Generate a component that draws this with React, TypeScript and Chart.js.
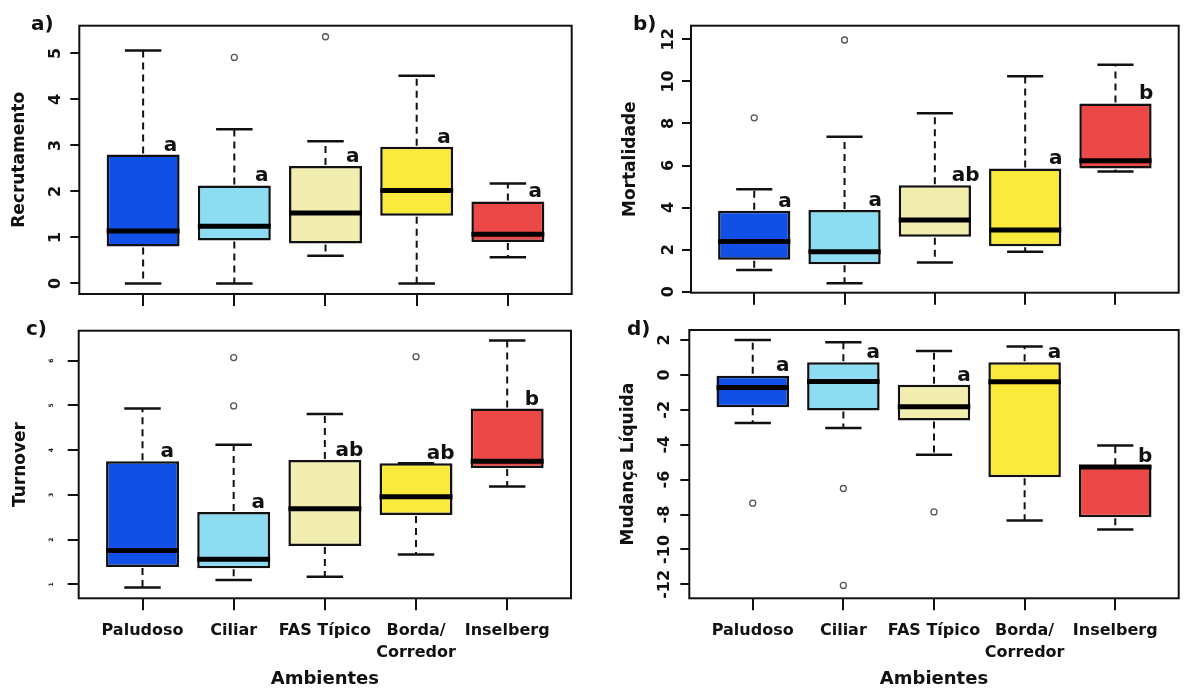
import React, { useEffect, useRef } from 'react';
import { Chart, registerables } from 'chart.js';

Chart.register(...registerables);

// ---------- data ----------
const categories = ['Paludoso', 'Ciliar', 'FAS Típico', 'Borda/\nCorredor', 'Inselberg'];
const boxColors = ['#1150e6', '#8cdcf2', '#f2eeb0', '#faea3c', '#ec4848'];

// a) Recrutamento
const recLow = [0, 0, 0.6, 0, 0.57];
const recQ1 = [0.8, 0.93, 0.87, 1.47, 0.9];
const recMed = [1.14, 1.24, 1.53, 2.02, 1.07];
const recQ3 = [2.8, 2.13, 2.55, 2.97, 1.78];
const recHigh = [5.06, 3.35, 3.09, 4.51, 2.17];
const recOutX = [2, 3];
const recOutY = [4.91, 5.36];
const recLetters = ['a', 'a', 'a', 'a', 'a'];
const recTicks = [0, 1, 2, 3, 4, 5];

// b) Mortalidade
const morLow = [1.03, 0.4, 1.39, 1.9, 5.72];
const morQ1 = [1.52, 1.3, 2.61, 2.16, 5.86];
const morMed = [2.38, 1.9, 3.41, 2.93, 6.23];
const morQ3 = [3.85, 3.88, 5.06, 5.86, 8.95];
const morHigh = [4.87, 7.37, 8.48, 10.24, 10.79];
const morOutX = [1, 2];
const morOutY = [8.27, 11.97];
const morLetters = ['a', 'a', 'ab', 'a', 'b'];
const morTicks = [0, 2, 4, 6, 8, 10, 12];

// c) Turnover
const turLow = [0.93, 1.1, 1.17, 1.67, 3.19];
const turQ1 = [1.39, 1.36, 1.86, 2.55, 3.6];
const turMed = [1.76, 1.56, 2.69, 2.96, 3.75];
const turQ3 = [3.75, 2.62, 3.78, 3.71, 4.93];
const turHigh = [4.93, 4.12, 4.81, 3.71, 6.45];
const turOutX = [2, 2, 4];
const turOutY = [6.07, 4.99, 6.09];
const turLetters = ['a', 'a', 'ab', 'ab', 'b'];
const turTicks = [1, 2, 3, 4, 5, 6];

// d) Mudança Líquida
const mudLow = [-2.76, -3.05, -4.57, -8.34, -8.86];
const mudQ1 = [-1.85, -2.04, -2.61, -5.87, -8.15];
const mudMed = [-0.72, -0.38, -1.83, -0.4, -5.28];
const mudQ3 = [0.0, 0.72, -0.57, 0.72, -5.24];
const mudHigh = [2.0, 1.87, 1.37, 1.62, -4.04];
const mudOutX = [1, 2, 2, 3];
const mudOutY = [-7.35, -6.51, -12.06, -7.85];
const mudLetters = ['a', 'a', 'a', 'a', 'b'];
const mudTicks = [-12, -10, -8, -6, -4, -2, 0, 2];

const FONT = "'DejaVu Sans', sans-serif";
const INK = '#111';

const panels = [
  {
    label: 'a)', title: 'Recrutamento',
    low: recLow, q1: recQ1, med: recMed, q3: recQ3, high: recHigh,
    outX: recOutX, outY: recOutY, letters: recLetters, ticks: recTicks,
    yMin: -0.23, yMax: 5.6,
    left: 0, top: 0, w: 592, h: 310,
    areaLeft: 79.3, padRight: 20.3, padTop: 25.7, xHeight: 16, showX: false,
    tickPad: 9, tickFont: 16, tickLen: 9, titlePad: 9.3, letterDx: 0.3,
    labelX: 31, labelY: 30,
  },
  {
    label: 'b)', title: 'Mortalidade',
    low: morLow, q1: morQ1, med: morMed, q3: morQ3, high: morHigh,
    outX: morOutX, outY: morOutY, letters: morLetters, ticks: morTicks,
    yMin: -0.05, yMax: 12.65,
    left: 592, top: 0, w: 592, h: 310,
    areaLeft: 99, padRight: 4, padTop: 25.7, xHeight: 17.3, showX: false,
    tickPad: 2.5, tickFont: 16, tickLen: 9, titlePad: 28.8, letterDx: 0.34,
    labelX: 41, labelY: 30,
  },
  {
    label: 'c)', title: 'Turnover',
    low: turLow, q1: turQ1, med: turMed, q3: turQ3, high: turHigh,
    outX: turOutX, outY: turOutY, letters: turLetters, ticks: turTicks,
    yMin: 0.69, yMax: 6.67,
    left: 0, top: 310, w: 592, h: 381,
    areaLeft: 78.7, padRight: 21, padTop: 20.7, xHeight: 92.7, showX: true,
    tickPad: 13.9, tickFont: 6, tickLen: 11, titlePad: 10.8, letterDx: 0.27,
    labelX: 26, labelY: 25,
  },
  {
    label: 'd)', title: 'Mudança Líquida',
    low: mudLow, q1: mudQ1, med: mudMed, q3: mudQ3, high: mudHigh,
    outX: mudOutX, outY: mudOutY, letters: mudLetters, ticks: mudTicks,
    yMin: -12.8, yMax: 2.57,
    left: 592, top: 310, w: 592, h: 381,
    areaLeft: 97.3, padRight: 4, padTop: 20, xHeight: 92.7, showX: true,
    tickPad: 1.5, tickFont: 16, tickLen: 9, titlePad: 26.8, letterDx: 0.33,
    labelX: 35, labelY: 25,
  },
];

type Panel = typeof panels[number];

function makeChart(canvas: HTMLCanvasElement, p: Panel) {
  const boxPlugin = {
    id: 'boxplotExtras',
    afterDatasetsDraw(chart: any) {
      const ctx = chart.ctx;
      const xs = chart.scales.x;
      const ys = chart.scales.y;
      const meta = chart.getDatasetMeta(0);
      ctx.save();
      p.med.forEach((m: number, i: number) => {
        const el = meta.data[i];
        const cx = xs.getPixelForValue(i + 1);
        const hw = el.width / 2;
        const sw = hw / 2;
        const yLow = ys.getPixelForValue(p.low[i]);
        const yQ1 = ys.getPixelForValue(p.q1[i]);
        const yMed = ys.getPixelForValue(m);
        const yQ3 = ys.getPixelForValue(p.q3[i]);
        const yHigh = ys.getPixelForValue(p.high[i]);
        // whiskers
        ctx.strokeStyle = INK;
        ctx.lineWidth = 2;
        ctx.setLineDash([7, 5]);
        ctx.beginPath();
        if (p.high[i] > p.q3[i]) { ctx.moveTo(cx, yQ3 - 1); ctx.lineTo(cx, yHigh); }
        if (p.low[i] < p.q1[i]) { ctx.moveTo(cx, yQ1 + 1); ctx.lineTo(cx, yLow); }
        ctx.stroke();
        ctx.setLineDash([]);
        // staples
        ctx.lineWidth = 2.5;
        ctx.beginPath();
        ctx.moveTo(cx - sw, yHigh); ctx.lineTo(cx + sw, yHigh);
        ctx.moveTo(cx - sw, yLow); ctx.lineTo(cx + sw, yLow);
        ctx.stroke();
        // median
        ctx.lineWidth = 5;
        ctx.strokeStyle = '#000';
        ctx.beginPath();
        ctx.moveTo(cx - hw, yMed); ctx.lineTo(cx + hw, yMed);
        ctx.stroke();
        // letters
        ctx.fillStyle = INK;
        ctx.font = `bold 20px ${FONT}`;
        ctx.textAlign = 'center';
        ctx.textBaseline = 'alphabetic';
        ctx.fillText(p.letters[i], xs.getPixelForValue(i + 1 + p.letterDx), yQ3 - 4);
      });
      ctx.restore();
    },
    afterDraw(chart: any) {
      const ctx = chart.ctx;
      const a = chart.chartArea;
      ctx.save();
      ctx.strokeStyle = INK;
      ctx.lineWidth = 2;
      ctx.strokeRect(a.left, a.top, a.right - a.left, a.bottom - a.top);
      ctx.fillStyle = INK;
      ctx.font = `bold 20px ${FONT}`;
      ctx.textAlign = 'left';
      ctx.textBaseline = 'alphabetic';
      ctx.fillText(p.label, p.labelX, p.labelY);
      ctx.restore();
    },
  };

  const zeroPad = (s: any) => {
    s.paddingLeft = 0; s.paddingRight = 0; s.paddingTop = 0; s.paddingBottom = 0;
  };

  return new Chart(canvas, {
    type: 'bar',
    data: {
      datasets: [
        {
          type: 'bar',
          data: p.q1.map((v: number, i: number) => ({ x: i + 1, y: [v, p.q3[i]] })) as any,
          backgroundColor: boxColors,
          borderColor: INK,
          borderWidth: 2.5,
          borderSkipped: false,
          categoryPercentage: 0.8,
          barPercentage: 1,
        } as any,
        {
          type: 'scatter',
          data: p.outX.map((x: number, i: number) => ({ x, y: p.outY[i] })),
          pointRadius: 3,
          pointBorderColor: '#555',
          pointBackgroundColor: 'rgba(255,255,255,0)',
          pointBorderWidth: 1.3,
          showLine: false,
        } as any,
      ],
    },
    options: {
      animation: false,
      responsive: false,
      maintainAspectRatio: false,
      devicePixelRatio: 1,
      events: [],
      layout: { padding: { left: 0, top: p.padTop, right: p.padRight, bottom: 0 } },
      plugins: { legend: { display: false }, tooltip: { enabled: false } },
      scales: {
        x: {
          type: 'linear',
          min: 0.3,
          max: 5.7,
          offset: false,
          afterBuildTicks: (s: any) => { s.ticks = categories.map((_, i) => ({ value: i + 1 })); },
          afterFit: (s: any) => { s.height = p.xHeight; zeroPad(s); },
          ticks: {
            display: p.showX,
            autoSkip: false,
            minRotation: 0,
            maxRotation: 0,
            padding: 10,
            color: INK,
            font: { family: FONT, size: 16, weight: 'bold', lineHeight: 1.35 },
            callback: (_v: any, i: number) => categories[i].split('\n'),
          },
          grid: { display: true, drawOnChartArea: false, drawTicks: true, tickLength: 12, color: INK, lineWidth: 2, offset: false },
          border: { display: false },
          title: {
            display: p.showX,
            text: 'Ambientes',
            color: INK,
            font: { family: FONT, size: 18, weight: 'bold' },
            padding: { top: 0, bottom: 1 },
          },
        },
        y: {
          type: 'linear',
          min: p.yMin,
          max: p.yMax,
          afterBuildTicks: (s: any) => { s.ticks = p.ticks.map((v: number) => ({ value: v })); },
          afterFit: (s: any) => { s.width = p.areaLeft; zeroPad(s); },
          ticks: {
            minRotation: 90,
            maxRotation: 90,
            crossAlign: 'center',
            padding: p.tickPad,
            color: INK,
            font: { family: FONT, size: p.tickFont, weight: 'bold' },
            callback: (v: any) => String(v),
          },
          grid: { display: true, drawOnChartArea: false, drawTicks: true, tickLength: p.tickLen, color: INK, lineWidth: 2 },
          border: { display: false },
          title: {
            display: true,
            text: p.title,
            color: INK,
            font: { family: FONT, size: 17, weight: 'bold' },
            padding: { top: p.titlePad, bottom: 0 },
          },
        },
      },
    } as any,
    plugins: [boxPlugin],
  });
}

function PanelChart({ p }: { p: Panel }) {
  const ref = useRef<HTMLCanvasElement | null>(null);
  useEffect(() => {
    if (!ref.current) return;
    const chart = makeChart(ref.current, p);
    return () => chart.destroy();
  }, [p]);
  return (
    <canvas
      ref={ref}
      width={p.w}
      height={p.h}
      style={{ position: 'absolute', left: p.left, top: p.top, width: p.w, height: p.h }}
    />
  );
}

export default function App() {
  return (
    <div style={{ position: 'fixed', left: 0, top: 0, width: 1184, height: 691, background: '#fff', overflow: 'hidden' }}>
      {panels.map((p) => (
        <PanelChart key={p.label} p={p} />
      ))}
    </div>
  );
}
